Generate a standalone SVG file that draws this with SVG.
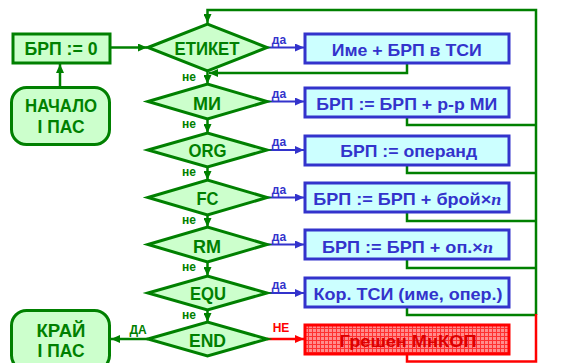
<svg xmlns="http://www.w3.org/2000/svg" width="563" height="363" viewBox="0 0 563 363">
<defs>
<style>
.gbox{fill:#ccffcc;stroke:#008000;stroke-width:3}
.bbox{fill:#ccffff;stroke:#3333cc;stroke-width:3}
.rbox{fill:url(#grid);stroke:#ff0000;stroke-width:3}
.gt{font-family:"Liberation Sans",Arial,sans-serif;font-weight:bold;fill:#008000;text-anchor:middle}
.bt{font-family:"Liberation Sans",Arial,sans-serif;font-weight:bold;fill:#3333cc;text-anchor:middle;font-size:16.5px}
.rt{font-family:"Liberation Sans",Arial,sans-serif;font-weight:bold;fill:#dd0000;text-anchor:middle;font-size:16.5px}
.big{font-size:18px}
.sm{font-size:12px}
.gl{fill:none;stroke:#008000;stroke-width:2.5}
.bl{fill:none;stroke:#3333cc;stroke-width:2}
.rl{fill:none;stroke:#ff0000;stroke-width:2.5}
.it{font-family:"Liberation Serif",serif;font-style:italic;font-weight:bold}
</style>
<pattern id="grid" width="4" height="4" patternUnits="userSpaceOnUse">
<rect width="4" height="4" fill="#ff8c8c"/>
<path d="M0 0.5H4M0.5 0V4" stroke="#ff3030" stroke-width="1"/>
</pattern>
<marker id="ag" markerWidth="9" markerHeight="8" refX="9" refY="4" orient="auto" markerUnits="userSpaceOnUse"><path d="M0 0L9 4L0 8z" fill="#008000"/></marker>
<marker id="ab" markerWidth="9" markerHeight="8" refX="9" refY="4" orient="auto" markerUnits="userSpaceOnUse"><path d="M0 0L9 4L0 8z" fill="#3333cc"/></marker>
<marker id="ar" markerWidth="9" markerHeight="8" refX="9" refY="4" orient="auto" markerUnits="userSpaceOnUse"><path d="M0 0L9 4L0 8z" fill="#ff0000"/></marker>
</defs>
<rect width="563" height="363" fill="#ffffff"/>

<g id="connectors">
<path class="gl" d="M60 88V64" marker-end="url(#ag)"/>
<path class="gl" d="M111 47.5H147" marker-end="url(#ag)"/>
<path class="gl" d="M536 315V10H207.5V23" marker-end="url(#ag)"/>
<path class="gl" d="M407 64V73H209" marker-end="url(#ag)"/>
<path class="gl" d="M407 118V125H536"/>
<path class="gl" d="M407 166V173H536"/>
<path class="gl" d="M407 213V221H536"/>
<path class="gl" d="M407 260V268H536"/>
<path class="gl" d="M407 308V315H536"/>
<path class="rl" d="M407 355V361.5H536V314"/>
<path class="gl" d="M207.5 71V84" marker-end="url(#ag)"/>
<path class="gl" d="M207.5 119V133" marker-end="url(#ag)"/>
<path class="gl" d="M207.5 167V180" marker-end="url(#ag)"/>
<path class="gl" d="M207.5 215V227" marker-end="url(#ag)"/>
<path class="gl" d="M207.5 262V276" marker-end="url(#ag)"/>
<path class="gl" d="M207.5 310V322" marker-end="url(#ag)"/>
<path class="bl" d="M267 47.5H304" marker-end="url(#ab)"/>
<path class="bl" d="M267 101.5H304" marker-end="url(#ab)"/>
<path class="bl" d="M267 150H304" marker-end="url(#ab)"/>
<path class="bl" d="M267 197.5H304" marker-end="url(#ab)"/>
<path class="bl" d="M267 244.5H304" marker-end="url(#ab)"/>
<path class="bl" d="M267 293H304" marker-end="url(#ab)"/>
<path class="rl" d="M267 339H304" marker-end="url(#ar)"/>
<path class="gl" d="M148 339H111" marker-end="url(#ag)"/>
<text class="bt sm" x="279" y="43.5">да</text>
<text class="bt sm" x="279" y="97.5">да</text>
<text class="bt sm" x="279" y="146">да</text>
<text class="bt sm" x="279" y="193.5">да</text>
<text class="bt sm" x="279" y="240.5">да</text>
<text class="bt sm" x="279" y="289">да</text>
<text class="gt sm" x="189" y="80.5">не</text>
<text class="gt sm" x="189" y="127.5">не</text>
<text class="gt sm" x="189" y="175.5">не</text>
<text class="gt sm" x="189" y="223.5">не</text>
<text class="gt sm" x="189" y="270.5">не</text>
<text class="gt sm" x="189" y="318.5">не</text>
<text class="gt sm" x="138" y="334">ДА</text>
<text class="rt sm" x="281" y="332" style="fill:#ff0000">НЕ</text>
</g>

<g id="start">
<rect class="gbox" x="11.5" y="87.5" width="98" height="57" rx="15"/>
<text class="gt big" x="61" y="111.5" textLength="72" lengthAdjust="spacingAndGlyphs">НАЧАЛО</text>
<text class="gt big" x="61" y="133" textLength="47" lengthAdjust="spacingAndGlyphs">І ПАС</text>
</g>
<g id="init">
<rect class="gbox" x="13" y="34" width="97" height="29"/>
<text class="gt big" x="61" y="55" textLength="73" lengthAdjust="spacingAndGlyphs">БРП := 0</text>
</g>
<g id="end">
<rect class="gbox" x="11.5" y="310.5" width="98" height="60" rx="15"/>
<text class="gt big" x="61" y="336.5" textLength="49" lengthAdjust="spacingAndGlyphs">КРАЙ</text>
<text class="gt big" x="61" y="357" textLength="47" lengthAdjust="spacingAndGlyphs">І ПАС</text>
</g>

<g id="d-etiket">
<polygon class="gbox" points="148,47.5 207.5,24 267,47.5 207.5,71"/>
<text class="gt big" x="207" y="55" textLength="65" lengthAdjust="spacingAndGlyphs">ЕТИКЕТ</text>
</g>
<g id="d-mi">
<polygon class="gbox" points="148,101.5 207.5,84 267,101.5 207.5,119"/>
<text class="gt big" x="207" y="109.5" textLength="28" lengthAdjust="spacingAndGlyphs">МИ</text>
</g>
<g id="d-org">
<polygon class="gbox" points="148,150 207.5,133 267,150 207.5,167"/>
<text class="gt big" x="207.5" y="156.5" textLength="38" lengthAdjust="spacingAndGlyphs">ORG</text>
</g>
<g id="d-fc">
<polygon class="gbox" points="148,197.5 207.5,180 267,197.5 207.5,215"/>
<text class="gt big" x="207.5" y="205" textLength="22" lengthAdjust="spacingAndGlyphs">FC</text>
</g>
<g id="d-rm">
<polygon class="gbox" points="148,244.5 207.5,227 267,244.5 207.5,262"/>
<text class="gt big" x="207" y="252.5" textLength="28" lengthAdjust="spacingAndGlyphs">RM</text>
</g>
<g id="d-equ">
<polygon class="gbox" points="148,293 207.5,276 267,293 207.5,310"/>
<text class="gt big" x="208" y="299.5" textLength="36" lengthAdjust="spacingAndGlyphs">EQU</text>
</g>
<g id="d-end">
<polygon class="gbox" points="148,339 207.5,322 267,339 207.5,356"/>
<text class="gt big" x="207.5" y="346.5" textLength="37" lengthAdjust="spacingAndGlyphs">END</text>
</g>

<g id="b-label">
<rect class="bbox" x="305" y="34" width="204" height="29"/>
<text class="bt" x="406.7" y="55.5" textLength="150" lengthAdjust="spacingAndGlyphs">Име + БРП в ТСИ</text>
</g>
<g id="b-mi">
<rect class="bbox" x="305" y="88" width="204" height="29"/>
<text class="bt" x="406.7" y="109.5" textLength="181" lengthAdjust="spacingAndGlyphs">БРП := БРП + р-р МИ</text>
</g>
<g id="b-org">
<rect class="bbox" x="305" y="136" width="204" height="29"/>
<text class="bt" x="408.7" y="156.5" textLength="137" lengthAdjust="spacingAndGlyphs">БРП := операнд</text>
</g>
<g id="b-fc">
<rect class="bbox" x="305" y="183" width="204" height="29"/>
<text class="bt" x="407.3" y="205" textLength="188" lengthAdjust="spacingAndGlyphs">БРП := БРП + брой×<tspan class="it">n</tspan></text>
</g>
<g id="b-rm">
<rect class="bbox" x="305" y="230" width="204" height="29"/>
<text class="bt" x="407.5" y="253" textLength="171" lengthAdjust="spacingAndGlyphs">БРП := БРП + оп.×<tspan class="it">n</tspan></text>
</g>
<g id="b-equ">
<rect class="bbox" x="305" y="278" width="204" height="29"/>
<text class="bt" x="408" y="299.5" textLength="189" lengthAdjust="spacingAndGlyphs">Кор. ТСИ (име, опер.)</text>
</g>
<g id="b-err">
<rect class="rbox" x="305" y="325" width="204" height="29"/>
<text class="rt" x="408" y="346.5" textLength="137" lengthAdjust="spacingAndGlyphs">Грешен МнКОП</text>
</g>
</svg>
